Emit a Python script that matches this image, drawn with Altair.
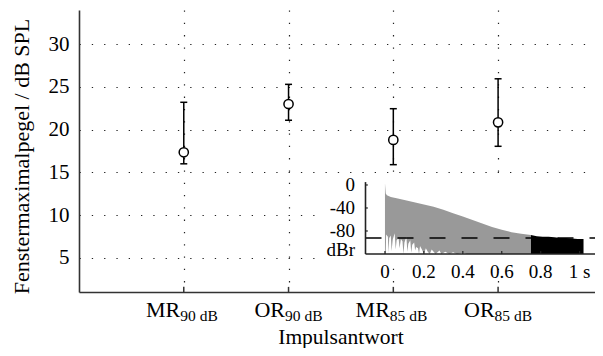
import altair as alt
import pandas as pd

FONT = "Liberation Serif"

# ---- main data ----
cat_pos = [1, 2, 3, 4]
cat_main = ["MR", "OR", "MR", "OR"]
cat_sub = ["90 dB", "90 dB", "85 dB", "85 dB"]
means = [17.35, 23.0, 18.8, 20.85]
lower = [16.0, 21.1, 15.9, 18.05]
upper = [23.2, 25.3, 22.45, 25.95]
y_ticks = [5, 10, 15, 20, 25, 30]

# ---- inset data (impulse response, dBr over s) ----
env_t = [0.0, 0.004, 0.01, 0.03, 0.06, 0.1, 0.15, 0.2, 0.25, 0.3, 0.35, 0.4,
         0.45, 0.5, 0.55, 0.6, 0.65, 0.7, 0.75]
env_db = [3, -15, -18, -21, -23, -26, -30, -34, -38, -43, -49, -55,
          -61, -67, -73, -78, -82, -85, -87]
notch_t = [0.004, 0.006, 0.015, 0.018, 0.022, 0.03, 0.034, 0.04, 0.05, 0.055,
           0.06, 0.07, 0.075, 0.082, 0.09, 0.095, 0.1, 0.11, 0.115, 0.12,
           0.13, 0.135, 0.14, 0.15, 0.155, 0.16, 0.17, 0.175, 0.18, 0.19,
           0.2, 0.21, 0.22, 0.23, 0.24, 0.26, 0.28, 0.29, 0.31, 0.33,
           0.35, 0.37, 0.4, 0.42]
notch_db = [-120, -86, -90, -118, -92, -88, -115, -95, -84, -112,
            -96, -92, -110, -94, -98, -120, -100, -90, -116, -102,
            -96, -118, -104, -100, -114, -108, -110, -120, -106, -112,
            -120, -110, -116, -120, -112, -120, -114, -120, -116, -120,
            -117, -120, -118, -120]
tail_t = [0.75, 0.78, 0.81, 0.84, 0.87, 0.9, 0.93, 0.96, 0.99, 1.02]
tail_db = [-87, -89, -90, -90, -91, -92, -92, -93, -94, -94]
noise_floor_db = -92
inset_x_ticks = [0, 0.2, 0.4, 0.6, 0.8, 1.0]
inset_x_labels = ["0", "0.2", "0.4", "0.6", "0.8", "1 s"]
inset_y_ticks = [0, -40, -80]
inset_y_label_pos = [0, -40, -80, -113]
inset_y_labels = ["0", "-40", "-80", "dBr"]

X = alt.Scale(domain=[0, 4.925], nice=False, zero=False, padding=0)
Y = alt.Scale(domain=[1, 34], nice=False, zero=False, padding=0)
IX = alt.Scale(domain=[-0.1, 1.08], range=[286.5, 516.2], nice=False, zero=False)
IY = alt.Scale(domain=[-120, 5], range=[244, 172.1], nice=False, zero=False)

df = pd.DataFrame({"pos": cat_pos, "main": cat_main, "sub": cat_sub,
                   "mean": means, "lo": lower, "hi": upper})

x_axis = alt.Axis(values=cat_pos, grid=True, gridDash=[1.3, 11], gridColor="#222",
                  gridWidth=1.2, labels=False, ticks=False, domainColor="#333",
                  domainWidth=1.6, title=None)
y_axis = alt.Axis(values=y_ticks, grid=True, gridDash=[1.3, 11], gridColor="#222",
                  gridWidth=1.2, ticks=False, tickSize=0, labelPadding=10,
                  labelFont=FONT, labelFontSize=21, labelColor="black",
                  domainColor="#333", domainWidth=1.6,
                  title="Fenstermaximalpegel / dB SPL", titleFont=FONT,
                  titleFontSize=22, titleFontWeight="normal", titleColor="black",
                  titleX=-51, titleY=146, titleAlign="center",
                  titleBaseline="alphabetic")

def mx(f):
    return alt.X(f, type="quantitative", scale=X, axis=None)

def my(f):
    return alt.Y(f, type="quantitative", scale=Y, axis=None)

axes_layer = alt.Chart(df).mark_point(opacity=0).encode(
    x=alt.X("pos:Q", scale=X, axis=x_axis),
    y=alt.Y("mean:Q", scale=Y, axis=y_axis),
)

xticks = alt.Chart(df).mark_rule(color="#333", strokeWidth=1.5).encode(
    x=mx("pos"), y=alt.YDatum(1, scale=Y, axis=None), y2=alt.Y2Datum(1.6))

bars = alt.Chart(df).mark_rule(color="black", strokeWidth=1.5).encode(
    x=mx("pos"), y=my("lo"), y2="hi")
cap_lo = alt.Chart(df).mark_rule(color="black", strokeWidth=1.5, xOffset=-3.5, x2Offset=3.5).encode(
    x=mx("pos"), x2="pos", y=my("lo"))
cap_hi = alt.Chart(df).mark_rule(color="black", strokeWidth=1.5, xOffset=-3.5, x2Offset=3.5).encode(
    x=mx("pos"), x2="pos", y=my("hi"))
pts = alt.Chart(df).mark_point(shape="circle", filled=True, fill="white", stroke="black",
                               strokeWidth=1.5, size=85, opacity=1).encode(
    x=mx("pos"), y=my("mean"))

lab_main = alt.Chart(df).mark_text(align="right", baseline="alphabetic", dx=-3.5, dy=24.7,
                                   font=FONT, fontSize=22, color="black").encode(
    x=mx("pos"), y=alt.YDatum(1, scale=Y, axis=None), text="main:N")
lab_sub = alt.Chart(df).mark_text(align="left", baseline="alphabetic", dx=-3.5, dy=29,
                                  font=FONT, fontSize=15.5, color="black").encode(
    x=mx("pos"), y=alt.YDatum(1, scale=Y, axis=None), text="sub:N")
xtitle = alt.Chart(pd.DataFrame({"t": ["Impulsantwort"]})).mark_text(
    align="center", baseline="alphabetic", dy=52, font=FONT, fontSize=21.5, color="black").encode(
    x=alt.XDatum(2.5, scale=X, axis=None), y=alt.YDatum(1, scale=Y, axis=None), text="t:N")

main_layers = [axes_layer, xticks, bars, cap_lo, cap_hi, pts, lab_main, lab_sub, xtitle]

# ---- inset ----
def ix(f):
    return alt.X(f, type="quantitative", scale=IX, axis=None)

def iy(f):
    return alt.Y(f, type="quantitative", scale=IY, axis=None)

one = pd.DataFrame({"a": [0]})
env_df = pd.DataFrame({"t": env_t, "db": env_db})
notch_df = pd.DataFrame({"t": notch_t, "db": notch_db})
tail_df = pd.DataFrame({"t": tail_t, "db": tail_db})

bg = alt.Chart(one).mark_rect(color="white").encode(
    x=alt.XDatum(-0.345, scale=IX, axis=None), x2=alt.X2Datum(1.08),
    y=alt.YDatum(15.6, scale=IY, axis=None), y2=alt.Y2Datum(-134))
gray = alt.Chart(env_df).mark_area(color="#999999", opacity=1).encode(
    x=ix("t"), y=iy("db"), y2=alt.Y2Datum(-120))
notch = alt.Chart(notch_df).mark_area(color="white", opacity=1).encode(
    x=ix("t"), y=iy("db"), y2=alt.Y2Datum(-120))
tail = alt.Chart(tail_df).mark_area(color="black", opacity=1).encode(
    x=ix("t"), y=iy("db"), y2=alt.Y2Datum(-120))
dash = alt.Chart(one).mark_rule(color="black", strokeWidth=1.5, strokeDash=[16, 16]).encode(
    x=alt.XDatum(-0.1, scale=IX, axis=None), x2=alt.X2Datum(1.08),
    y=alt.YDatum(noise_floor_db, scale=IY, axis=None))
ax_left = alt.Chart(one).mark_rule(color="#222", strokeWidth=1.6).encode(
    x=alt.XDatum(-0.1, scale=IX, axis=None),
    y=alt.YDatum(-120, scale=IY, axis=None), y2=alt.Y2Datum(5))
ax_bot = alt.Chart(one).mark_rule(color="#222", strokeWidth=1.6).encode(
    x=alt.XDatum(-0.1, scale=IX, axis=None), x2=alt.X2Datum(1.08),
    y=alt.YDatum(-120, scale=IY, axis=None))
yt_df = pd.DataFrame({"v": inset_y_ticks})
xt_df = pd.DataFrame({"v": inset_x_ticks, "lab": inset_x_labels})
yl_df = pd.DataFrame({"v": inset_y_label_pos, "lab": inset_y_labels})
iyticks = alt.Chart(yt_df).mark_rule(color="#222", strokeWidth=1.2).encode(
    x=alt.XDatum(-0.1, scale=IX, axis=None), x2=alt.X2Datum(-0.088), y=iy("v"))
ixticks = alt.Chart(xt_df).mark_rule(color="#222", strokeWidth=1.2).encode(
    x=ix("v"), y=alt.YDatum(-120, scale=IY, axis=None), y2=alt.Y2Datum(-114.8))
iylabels = alt.Chart(yl_df).mark_text(align="right", baseline="middle", dx=-10.5,
                                      font=FONT, fontSize=19, color="black").encode(
    x=alt.XDatum(-0.1, scale=IX, axis=None), y=iy("v"), text="lab:N")
ixlabels = alt.Chart(xt_df).mark_text(align="center", baseline="middle", dy=18,
                                      font=FONT, fontSize=19, color="black").encode(
    x=ix("v"), y=alt.YDatum(-120, scale=IY, axis=None), text="lab:N")

inset_layers = [bg, gray, notch, tail, dash, ax_left, ax_bot, iyticks, ixticks,
                iylabels, ixlabels]

chart = alt.layer(*main_layers, *inset_layers).resolve_scale(
    x="independent", y="independent").properties(
    width=516, height=282,
    autosize=alt.AutoSizeParams(type="none"),
    padding={"left": 71, "top": 2, "right": 0, "bottom": 56},
).configure_view(stroke=None)

chart.save("out.html", embed_options={"renderer": "svg", "actions": False})
